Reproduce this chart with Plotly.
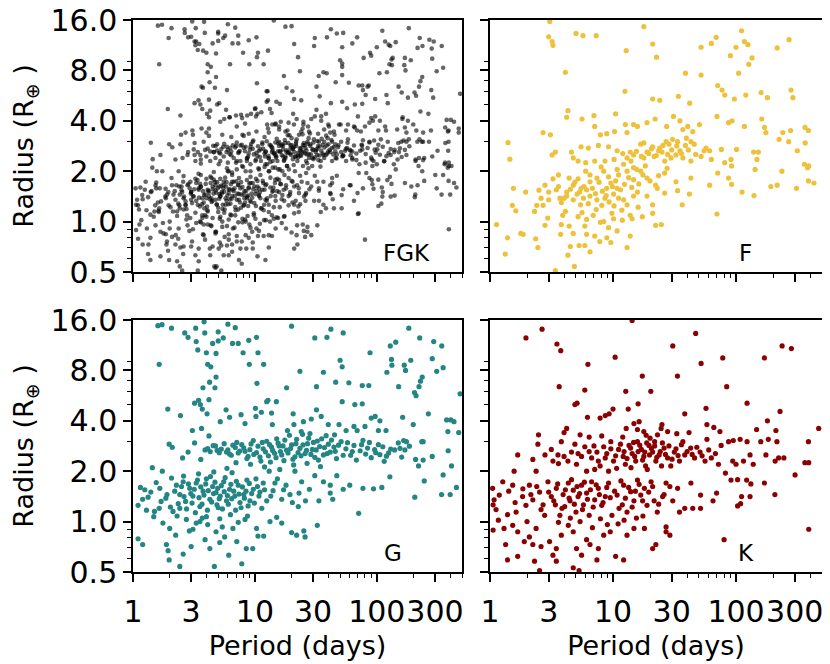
import math
import plotly.graph_objects as go

# ---------------- data (period in days, radius in Earth radii) ----------------
F_period = [
    3.06, 3.0, 3.2, 3.25, 5.0, 5.7, 7.3, 17.8, 21, 22.6, 12.8, 4.1, 12.5, 38.8, 52, 52, 63, 69,
    111, 100, 90, 117, 125, 135, 127, 105, 270, 216, 71, 77, 81, 97, 120, 160, 180, 280, 290,
    21, 24, 34, 42, 4.3, 4.2, 5.6, 7, 10.5, 2.7, 3.1, 1.4, 1.45, 3.2, 3.4, 4.6,
    12.6, 14.7, 15.8, 18.9, 22, 27.3, 31, 35, 37, 40.5, 44.5, 50.5, 70, 87, 93, 117, 162, 170,
    175, 364, 388, 278, 240, 7.1, 8.9, 10.3, 13, 7.9,
    5.5, 6.3, 7.6, 9.2, 10.8, 13.8, 16.8, 17.8, 21, 23.5, 25, 28.5, 33.5, 38.8, 45.7, 57, 61,
    76, 101, 139, 152, 224, 268, 315, 365, 390,
    4.75, 5.2, 6.0, 7.1, 8.6, 10.2, 13, 14.7, 17.8, 21.6, 26.3, 29.6, 37, 43, 52, 63, 81, 91,
    92, 148, 143, 236, 360, 382,
    3.25, 3.6, 4.4, 5.2, 6.5, 8.4, 9.2, 11.1, 13, 15.6, 14.7, 18.9, 22.2, 26.3, 32.5, 43, 61,
    71, 87, 92, 192, 216, 310, 430, 388,
    2.5, 1.95, 1.55, 3.46, 4.2, 5.1, 5.75, 6.5, 7.4, 8.6, 10.1, 11.1, 12.2, 14.7, 15.8, 18.9,
    21, 22.9, 26.3, 33.5, 41.8, 112, 140, 3.0, 2.7, 3.8, 4.75, 5.45, 8.1, 10.2, 13, 36.5,
    2.3, 1.52, 1.62, 2.95, 3.9, 5.2, 6.1, 6.9, 8.4, 10.1, 11.9, 13.8, 17.3, 21, 70, 22.2, 24.7,
    1.13, 2.8, 3.8, 4.4, 5.9, 7.9, 9.2, 10.8, 14.3,
    1.78, 1.86, 1.39, 2.35, 2.45, 3.75, 4.75, 6.1, 7.1, 8.9, 13.8, 7.8, 9.6, 13, 4.5, 5.3, 5.9,
    6.5, 4.3, 1.33, 4.85, 3.4,
    6.5, 7.4, 8.9, 9.6, 10.8, 4.75, 5.5, 6.1, 4.2, 3.7, 24, 27, 30.5, 32.5, 35, 39.5, 43, 55,
    18.9, 16.8, 18.3, 14.7, 12.2, 10.8,
    3.6, 4.0, 4.5, 4.9, 5.35, 5.8, 6.3, 6.8, 7.2, 7.7, 8.2, 8.8, 9.3, 9.9, 10.5, 11.5, 12.4,
    13.4, 14.2, 16.2, 17.5, 20, 23.5, 27.5, 12, 14, 15.5, 17, 19.5, 20.5, 22.5, 25.5, 27.8,
    30, 33, 36, 41, 47, 3.0, 2.8, 2.6, 2.4, 4.1, 5.6, 7.3, 9.8, 11.8, 16, 6.0, 8.0,
]
F_radius = [
    15.7, 12.7, 11.9, 11.3, 13.3, 12.9, 12.9, 14.6, 11.5, 9.6, 10.5, 7.8, 6.0, 7.7, 7.5, 11, 11.6, 12.6,
    13.8, 11, 9.8, 11.9, 11.4, 9.5, 8.7, 7.7, 12.2, 10.9, 6.5, 6.1, 5.7, 5.4, 5.7, 5.9, 5.5, 6.1, 5.5,
    5.4, 5.3, 5.6, 5.1, 4.6, 4.2, 4.1, 4.3, 4.4, 3.4, 3.3, 2.96, 2.36, 2.5, 2.6, 2.6,
    3.8, 3.8, 3.7, 3.9, 4.1, 3.7, 4.25, 4.0, 3.55, 3.7, 3.45, 3.8, 4.25, 3.9, 4.0, 3.7, 4.1, 3.65,
    3.4, 3.65, 3.5, 3.5, 3.4, 3.7, 3.35, 3.45, 3.4, 3.3,
    2.8, 2.75, 2.85, 2.8, 2.65, 2.6, 2.9, 2.95, 2.8, 2.65, 2.6, 2.9, 3.0, 2.85, 2.9, 2.75, 2.65,
    2.7, 2.7, 2.6, 2.6, 3.1, 3.0, 2.65, 2.95, 2.15,
    2.4, 2.3, 2.25, 2.3, 2.3, 2.35, 2.4, 2.5, 2.4, 2.45, 2.3, 2.4, 2.4, 2.3, 2.45, 2.35, 2.25, 2.35,
    2.15, 2.35, 2.05, 2.0, 2.2, 2.1,
    1.8, 1.9, 1.82, 1.8, 1.9, 2.0, 1.85, 1.9, 2.0, 2.05, 1.78, 1.82, 1.65, 1.95, 1.73, 1.82, 1.65,
    1.95, 1.82, 1.67, 1.62, 1.65, 1.58, 1.7, 1.75,
    1.54, 1.5, 1.58, 1.55, 1.5, 1.46, 1.38, 1.42, 1.35, 1.38, 1.46, 1.38, 1.35, 1.42, 1.5, 1.42,
    1.26, 1.58, 1.48, 1.53, 1.46, 1.5, 1.43, 1.35, 1.25, 1.3, 1.35, 1.26, 1.25, 1.24, 1.26, 1.26,
    1.15, 1.25, 1.16, 1.05, 1.09, 1.07, 1.03, 1.09, 1.0, 1.04, 1.02, 1.09, 1.07, 1.12, 1.11, 0.95, 0.96,
    0.96, 0.95, 0.96, 0.94, 0.94, 0.99, 0.92, 0.88, 1.04,
    0.85, 0.84, 0.8, 0.79, 0.7, 0.84, 0.85, 0.84, 0.82, 0.8, 0.82, 0.76, 0.75, 0.7, 0.71, 0.72, 0.72,
    0.66, 0.63, 0.64, 0.54, 0.51,
    1.73, 1.82, 1.58, 1.7, 1.58, 1.65, 1.58, 1.55, 1.42, 1.38, 2.75, 3.0, 3.1, 2.5, 2.65, 3.15, 3.0, 2.65,
    2.6, 2.0, 2.15, 2.1, 2.2, 2.05,
    1.62, 1.38, 1.56, 1.72, 1.5, 1.62, 1.28, 1.58, 1.47, 1.72, 1.52, 1.43, 1.31, 1.62, 1.75, 1.55, 1.67,
    1.83, 1.6, 1.68, 1.9, 1.75, 1.88, 2.08, 2.55, 2.3, 2.63, 2.45, 2.55, 2.72, 2.48, 2.85, 2.52,
    2.68, 2.83, 2.55, 2.68, 2.52, 1.5, 1.65, 1.38, 1.25, 1.15, 1.13, 1.18, 1.12, 1.17, 1.22, 2.0, 2.12,
]

G_period = [
    1.6, 1.73, 2.07, 1.64, 2.66, 2.83, 3.27, 3.3, 3.83, 3.88, 4.5, 5.0, 5.0, 5.5, 6.0, 6.9,
    6.55, 7.3, 8.9, 10.3, 8.0, 10.6, 9.0, 11.8, 3.4, 4.0, 4.8, 4.1, 4.35, 4.8, 4.25, 3.75,
    4.7, 10.4, 20, 31, 39, 42, 53, 50, 52, 23.4, 36.5, 18.2, 32, 46, 59, 52, 66, 76, 76, 86,
    88, 121, 133, 132, 129, 143, 183, 168, 172, 190, 151, 204, 210, 225, 222, 236,
    228, 285, 293, 350, 310, 341, 482, 265,
    1.93, 2.45, 3.2, 3.45, 3.57, 3.7, 4.05, 4.2, 3.07, 3.65, 4.2, 5.2, 5.8, 6.2, 7.7, 8.3,
    10.1, 10.2, 11.3, 12.5, 12.8, 13.9, 15, 13.7, 20.6, 20.9, 25, 29, 32, 35, 40, 49, 56, 65,
    69, 80, 90, 97, 106, 103, 119, 163, 166, 199, 234, 240, 374, 405, 430, 383, 470,
    1.98, 2.1, 2.55, 2.83, 3.2, 3.6, 3.9, 4.1, 4.55, 4.9,
    5.3, 5.85, 6.2, 6.6, 7.1, 7.5, 8.1, 8.8, 9.1, 9.7,
    10.3, 11.2, 11.7, 12.5, 12.9, 13.7, 14.5, 15.1, 15.8, 16.6,
    17.6, 18.2, 19.2, 20, 21.3, 22, 23.4, 24.6, 25.8, 27,
    28.3, 29.6, 31, 32.5, 34, 36.5, 38.4, 40, 41.5, 44.5,
    46.7, 51, 55.8, 61, 65, 73, 77, 84, 90, 96,
    106, 112, 120, 130, 150, 155, 170, 175, 208, 220,
    240, 285, 385, 410, 350, 450, 400, 340, 245, 205,
    110, 128,
    1.1, 1.25, 1.29, 1.33, 1.44, 1.5, 1.66, 1.74, 1.86, 2.07, 2.13, 2.27, 2.42, 2.58, 2.7, 2.92,
    3.1, 3.3, 3.54, 3.76, 4.0, 4.27, 4.5, 4.8, 5.0, 5.2, 5.55, 5.85, 6.2, 6.5, 6.85, 7.3, 7.7,
    8.1, 8.6, 9.1, 9.7, 10.2, 10.8, 11.7, 12.5, 13.1, 14.1, 15.3, 16.6, 18, 19.4, 21.3, 22.7,
    24.2, 26, 28, 31, 33.5, 36.5, 41.5, 43.5, 47, 53, 60, 71, 77, 94, 41.5,
    1.1, 1.2, 1.48, 1.76, 2.0, 2.24, 1.88, 1.94, 1.98, 2.42, 2.58, 3.0, 3.1, 3.54, 3.9, 4.27,
    4.65, 4.8, 5.15, 5.65, 6.1, 6.6, 7.1, 7.8, 8.3, 8.5, 9.6, 10.3, 10.6, 11.8, 13.3, 15.1,
    16.6, 20, 22, 25.2, 25.8, 32.5, 3.3, 4.0, 5.15, 2.74, 2.42, 1.64,
    2.2, 2.35, 2.5, 2.62, 2.75, 2.85, 2.98, 3.05, 3.18, 3.25, 3.38, 3.48, 3.6, 3.68, 3.82, 3.95,
    4.08, 4.15, 4.32, 4.42, 4.58, 4.7, 4.88, 4.95, 5.1, 5.3, 5.42, 5.6, 5.7, 5.95, 6.05, 6.35,
    6.45, 6.7, 6.95, 7.05, 7.4, 7.55, 7.9, 8.2, 8.45, 8.8, 9.0, 9.4, 9.9, 10.5, 11.0, 11.4,
    12.0, 13.5, 14.6, 17.2, 20.3, 23, 1.9, 1.7, 1.55, 1.4, 1.2, 1.15, 2.03, 2.6, 3.45, 4.6,
    5.9, 2.3, 3.7, 6.3, 8.7, 4.1, 5.4, 7.3, 2.9,
    4.3, 4.75, 5.1, 5.6, 6.0, 6.4, 6.9, 7.3, 7.8, 8.3, 8.6, 9.3, 9.8, 10.6, 11.0, 11.5, 12.2,
    13.2, 13.4, 14.0, 14.9, 15.5, 16.2, 17.0, 17.3, 18.7, 19.6, 20.5, 21.7, 22.6, 23.9, 24.8,
    26.5, 27.6, 28.8, 30.2, 31.8, 33.2, 35.3, 37.2, 39.2, 42.5, 45.6, 48.5, 53, 57.5, 63, 68,
    75, 81, 87, 98, 103, 115, 125, 140, 160, 185, 20.8, 26.8, 34.5, 12, 16, 9.2, 7.0, 24,
    18.5, 45,
]
G_radius = [
    14.8, 15, 14.3, 8.7, 13.4, 12.6, 14.3, 11.9, 15.6, 13.4, 11.6, 13.6, 12.0, 12.5, 15.1, 14.4,
    11.6, 11.6, 12.1, 12.6, 10.2, 10.2, 8.7, 8.7, 10.6, 10.2, 10.1, 8.7, 8.4, 7.3, 6.8, 6.3,
    6.3, 6.7, 14.7, 12.5, 12.6, 14.1, 13.4, 9.2, 8.4, 7.9, 7.8, 6.3, 6.4, 6.8, 6.75, 5.2, 5.0, 5.05, 6.5, 6.5,
    10.2, 7.8, 8.6, 9.3, 11.2, 11.8, 14.3, 8.6, 8.0, 9.2, 6.4, 5.9, 5.65, 12.5, 6.4, 7.3,
    6.9, 9.4, 11.9, 8.3, 7.9, 11.2, 5.8, 4.4,
    4.7, 4.3, 5.1, 5.3, 5.0, 4.7, 4.4, 5.35, 3.5, 3.6, 3.25, 3.95, 4.65, 4.2, 4.35, 3.85,
    4.75, 4.25, 4.5, 5.2, 5.3, 3.8, 5.2, 4.45, 4.4, 3.8, 3.95, 4.1, 4.65, 4.25, 3.8, 3.8, 3.5, 3.7,
    3.5, 3.7, 4.15, 4.25, 4.0, 3.5, 3.5, 4.2, 3.05, 3.8, 3.0, 3.0, 4.05, 4.05, 3.95, 3.45, 3.4,
    2.9, 2.78, 2.4, 2.6, 2.95, 2.35, 2.68, 2.73, 2.84, 2.66,
    2.71, 2.6, 2.53, 2.86, 2.97, 2.64, 2.76, 2.45, 2.69, 3.05,
    2.58, 2.3, 2.72, 3.02, 2.47, 2.79, 2.56, 3.12, 2.83, 2.5,
    3.07, 2.67, 3.28, 2.87, 2.44, 3.1, 2.74, 3.32, 2.55, 2.92,
    3.36, 2.7, 2.42, 3.03, 2.81, 2.5, 3.26, 2.9, 2.6, 2.79,
    2.38, 3.0, 2.72, 2.49, 2.85, 2.65, 3.06, 2.75, 2.41, 2.69,
    2.51, 2.8, 2.46, 2.71, 2.95, 2.74, 2.68, 3.0, 2.35, 2.15,
    2.33, 2.45, 2.65, 2.15, 1.9, 1.6, 1.45, 1.45, 1.75, 1.4,
    1.6, 1.85,
    1.25, 1.55, 1.17, 1.4, 2.1, 1.15, 1.58, 2.0, 1.38, 1.82, 1.15, 1.65, 1.45, 1.73, 1.32, 1.58,
    1.42, 1.7, 1.23, 1.52, 1.8, 1.36, 1.62, 1.49, 1.21, 1.42, 1.73, 1.33, 1.56, 1.96, 1.42, 1.65, 1.21,
    1.45, 1.77, 1.33, 1.56, 1.8, 1.42, 1.7, 1.33, 2.0, 1.53, 1.8, 1.36, 1.65, 1.45, 2.0, 1.23,
    1.73, 1.33, 1.56, 1.88, 1.33, 1.73, 1.65, 1.36, 1.88, 1.56, 1.65, 1.12, 1.58, 1.57, 1.48,
    0.79, 0.73, 1.07, 0.98, 0.91, 0.83, 0.73, 0.67, 0.59, 0.54, 0.64, 0.71, 0.9, 1.0, 0.78, 0.69,
    0.54, 0.87, 1.04, 0.81, 0.63, 0.91, 0.76, 0.56, 1.03, 0.69, 0.69, 0.91, 0.82, 0.82, 1.0, 1.06,
    0.98, 0.86, 0.83, 0.88, 0.81, 0.95, 0.98, 1.07, 0.75, 1.03, 1.2, 1.2,
    1.52, 1.28, 1.62, 1.41, 1.19, 1.68, 1.47, 1.29, 1.56, 1.13, 1.77, 1.39, 1.61, 1.27, 1.44, 1.68,
    1.17, 1.53, 1.86, 1.31, 1.47, 1.72, 1.26, 1.58, 1.37, 1.64, 1.19, 1.51, 1.83, 1.43, 1.27, 1.67,
    1.37, 1.52, 1.17, 1.74, 1.46, 1.3, 1.61, 1.38, 1.52, 1.24, 1.69, 1.47, 1.29, 1.62, 1.5, 1.2,
    1.55, 1.42, 1.7, 1.55, 1.3, 1.48, 1.45, 1.32, 1.71, 1.5, 1.36, 1.6, 1.22, 1.87, 1.93, 1.98,
    2.08, 1.08, 1.05, 1.1, 1.08, 0.96, 0.93, 0.99, 0.88,
    2.62, 2.83, 2.58, 2.92, 2.68, 2.49, 2.77, 2.57, 2.88, 2.63, 2.38, 2.91, 2.52, 2.82, 2.43, 2.97, 2.61,
    2.88, 2.27, 2.66, 2.41, 2.94, 2.62, 2.83, 2.31, 2.57, 2.73, 2.36, 2.92, 2.58, 2.47, 2.87,
    2.66, 3.15, 2.52, 2.97, 2.68, 2.33, 3.12, 2.77, 2.55, 3.07, 2.63, 2.86, 2.49, 2.96, 2.62, 2.33,
    2.88, 2.53, 2.97, 2.58, 2.88, 2.29, 2.57, 2.68, 2.43, 2.82, 2.18, 2.23, 2.13, 2.12, 2.05, 2.2, 2.25, 3.45,
    3.5, 3.3,
]

K_period = [
    2.65, 1.96, 3.5, 3.76, 3.65, 6.25, 10.4, 5.9, 4.9, 5.1, 6.2, 7.85, 8.65, 9.3, 10, 12.7, 13.3,
    16, 17.3, 20.3, 30.6, 33.4, 38.3, 47, 52, 57, 78, 84, 123, 170, 180, 228, 237, 282, 470, 14.3,
    2.48, 2.45, 4.2, 4.0, 3.8, 5.4, 6.4, 8.1, 9.6, 12.8, 14.8, 16.3, 15.8, 17.8, 20, 21.8, 24.6,
    25, 27.8, 33, 37, 41.5, 58, 58, 66, 74, 75.7, 87, 95, 108, 123, 147, 159, 183, 211, 215, 388,
    363, 390, 302, 245,
    1.68, 1.57, 2.23, 2.37, 3.15, 3.25, 3.57, 4.3, 4.6, 5.05,
    5.55, 5.9, 6.1, 6.7, 7.4, 7.85, 8.4, 8.65, 9.2, 10.1,
    11.1, 12.1, 12.6, 13.5, 14.3, 15.3, 15.8, 17, 17.8, 18.4,
    19.6, 21, 22.3, 23.7, 26, 27.8, 29.5, 31.5, 34.7, 38.3,
    42.8, 46, 51, 56, 63, 72, 82, 94, 100, 115,
    130, 138, 175, 208, 222, 91, 103, 122, 132, 170,
    207, 111, 130,
    1.05, 1.08, 1.19, 1.27, 1.53, 1.06, 1.17, 1.39, 1.63, 1.84, 1.96, 2.09, 2.23, 2.53, 2.7, 2.78,
    2.96, 3.15, 3.4, 3.46, 3.7, 3.93, 4.05, 4.33, 4.47, 4.75, 5.0, 5.2, 5.55, 5.75, 6.1, 6.4, 6.7,
    7.1, 7.6, 8.1, 8.65, 9.2, 9.8, 10.8, 11.9, 12.2, 13, 13.9, 14.8, 15.8, 16.8, 18, 18.9, 20.4,
    21.6, 22.9, 25.3, 27, 30.6, 33.5, 34.7, 38.3, 43, 44.5, 51.5, 51.5, 65, 69.5, 103, 109, 390,
    1.06, 1.3, 1.53, 1.68, 2.37, 2.09, 1.9, 2.23, 1.34, 2.6, 3.05, 3.25, 3.46, 3.8, 4.33, 4.75,
    5.05, 5.55, 6.1, 6.5, 7.4, 7.6, 8.4, 9.5, 10.5, 12.2, 13, 14.8, 18, 21, 22.3, 27, 29, 27,
    1.39, 1.68, 2.3, 2.53, 3.46, 5.3, 4.75, 80,
    3.0, 3.3, 3.55, 3.85, 4.1, 4.4, 4.6, 4.85, 5.1, 5.35, 5.65, 5.85, 6.2, 6.55, 6.9, 7.3, 7.75,
    8.3, 8.9, 9.5, 10.3, 11.2, 11.6, 12.6, 13.4, 14.3, 15.2, 16.3, 17.4, 19.5, 21, 23.5, 26, 29,
    2.4, 2.15, 1.85, 1.6, 1.42, 1.12, 2.6, 3.6, 5.4, 7.9, 11, 15.5, 2.0, 4.5, 6.8, 9.0, 12.3, 17.5,
    8.9, 9.6, 10.5, 11.5, 12.3, 13.0, 13.9, 14.7, 15.0, 16.0, 16.5, 17.4, 18.1, 18.8, 19.8, 20.5,
    21.8, 22.7, 24.2, 25.2, 26.7, 28.5, 30.2, 32.5, 33.8, 36, 40, 44, 48, 53, 60, 68, 6.4, 7.0,
    7.6, 5.2, 4.0, 4.9, 3.6, 2.8, 7.1, 10.7, 14.0, 19.0, 24.8, 12, 18.6, 23,
]
K_radius = [
    14.1, 12.5, 11.5, 10.5, 6.4, 8.7, 9.6, 6.1, 5.0, 5.1, 4.2, 4.15, 4.3, 4.4, 4.7, 6.0, 4.7,
    5.05, 7.4, 6.0, 11.2, 7.4, 4.4, 13.3, 8.8, 4.75, 9.5, 6.4, 5.1, 9.5, 4.0, 4.55, 11.2, 10.8, 3.6, 15.9,
    3.3, 2.9, 3.6, 3.4, 3.0, 3.3, 3.2, 3.25, 3.0, 3.6, 3.85, 3.95, 3.55, 3.45, 3.15, 3.0, 3.6,
    3.8, 3.45, 3.35, 3.0, 3.4, 3.8, 3.1, 3.65, 3.45, 2.85, 3.0, 3.05, 3.1, 3.0, 3.55, 3.0, 3.1, 3.5, 3.0, 3.0,
    2.25, 2.25, 1.9, 2.4,
    2.5, 2.0, 2.35, 2.0, 2.7, 2.3, 2.5, 2.3, 2.6, 2.2,
    2.45, 2.8, 2.0, 2.4, 2.6, 2.15, 2.8, 2.4, 2.0, 2.3,
    2.7, 2.45, 2.2, 2.85, 2.55, 2.3, 3.0, 2.7, 2.45, 2.15,
    2.85, 2.6, 2.3, 2.5, 2.75, 2.4, 2.15, 2.6, 2.3, 2.5,
    2.75, 2.4, 2.6, 2.3, 2.4, 2.2, 1.95, 2.3, 2.2, 2.3,
    2.5, 2.2, 2.5, 2.3, 2.4, 1.77, 1.78, 1.77, 1.68, 1.7,
    1.45, 1.41, 1.41,
    1.58, 1.35, 1.44, 1.73, 1.65, 1.26, 1.02, 1.1, 1.14, 1.41, 1.25, 1.65, 1.35, 1.5, 1.26, 1.09,
    1.73, 1.41, 1.26, 1.58, 1.09, 1.45, 1.23, 1.7, 1.33, 1.54, 1.14, 1.41, 1.65, 1.26, 1.48, 1.09, 1.73,
    1.35, 1.58, 1.25, 1.41, 1.7, 1.09, 1.44, 1.26, 1.65, 1.14, 1.51, 1.33, 1.77, 1.44, 1.58, 1.25, 1.73,
    1.33, 1.14, 1.41, 1.7, 1.33, 1.58, 1.14, 1.2, 1.7, 1.2, 1.2, 1.44, 1.33, 1.48, 1.24, 1.28, 0.9,
    0.89, 0.91, 0.95, 0.87, 0.91, 0.81, 0.76, 0.73, 0.73, 0.71, 0.76, 0.63, 0.69, 0.83, 0.95, 0.87,
    0.69, 0.63, 0.78, 0.73, 0.59, 0.69, 0.83, 0.87, 0.62, 0.59, 0.83, 0.91, 0.91, 0.69, 0.73, 0.87, 0.83, 0.93,
    0.59, 0.62, 0.58, 0.51, 0.58, 0.51, 0.53, 0.78,
    1.5, 1.33, 1.68, 1.2, 1.55, 1.38, 1.78, 1.27, 1.62, 1.47, 1.18, 1.72, 1.36, 1.55, 1.22, 1.66, 1.45,
    1.3, 1.6, 1.39, 1.52, 1.2, 1.75, 1.38, 1.6, 1.22, 1.52, 1.67, 1.33, 1.5, 1.62, 1.27, 1.45, 1.62,
    1.62, 1.45, 1.57, 1.3, 1.52, 1.18, 1.18, 0.99, 1.0, 1.04, 0.97, 1.05, 1.0, 1.05, 0.92, 0.96, 1.02, 1.08,
    2.55, 2.72, 2.47, 2.9, 2.62, 2.38, 2.75, 2.97, 2.45, 2.62, 2.86, 2.33, 2.6, 2.95, 2.5, 2.73,
    2.83, 2.42, 2.62, 2.95, 2.52, 2.83, 2.36, 2.72, 2.48, 2.88, 2.62, 2.52, 2.78, 2.47, 2.68, 2.55, 2.62, 2.83,
    2.3, 2.55, 2.45, 2.9, 2.22, 2.5, 2.05, 2.08, 2.1, 2.05, 2.15, 3.2, 3.28, 3.3,
]

# The FGK panel shows all stars together
FGK_period = F_period + G_period + K_period
FGK_radius = F_radius + G_radius + K_radius

panel_labels = ["FGK", "F", "G", "K"]
x_tickvals = [1, 3, 10, 30, 100, 300]
x_ticktext = ["1", "3", "10", "30", "100", "300"]
x_minor = [2, 4, 5, 6, 7, 8, 9, 20, 40, 50, 60, 70, 80, 90, 200, 400, 500]
y_tickvals = [0.5, 1, 2, 4, 8, 16]
y_ticktext = ["0.5", "1.0", "2.0", "4.0", "8.0", "16.0"]
y_minor = [0.6, 0.7, 0.8, 0.9, 3, 5, 6, 7, 9]

# ---------------- figure ----------------
FONT = "DejaVu Sans"
fig = go.Figure()

series = [
    (FGK_period, FGK_radius, "black", 4.6, 0.6, "x", "y"),
    (F_period, F_radius, "#EDC13A", 5.2, 1.0, "x2", "y2"),
    (G_period, G_radius, "#248585", 5.2, 1.0, "x3", "y3"),
    (K_period, K_radius, "#8B0000", 5.2, 1.0, "x4", "y4"),
]
for px, ry, col, sz, op, xa, ya in series:
    fig.add_trace(go.Scatter(
        x=px, y=ry, mode="markers", xaxis=xa, yaxis=ya, showlegend=False,
        marker=dict(color=col, size=sz, opacity=op, line=dict(width=0)),
        hoverinfo="x+y",
    ))

# page body adds an 8 px offset, so the figure is drawn 822x656
W, H = 822, 656
ML, MR, MT, MB = 125, 8, 12, 92
pw = W - ML - MR
ph = H - MT - MB
xl = [0, 329 / pw]
xr = [357 / pw, 1]
yt = [300 / ph, 1]
yb = [0, 252 / ph]

tickfont = dict(family=FONT, size=30, color="black")
titlefont = dict(family=FONT, size=27, color="black")


def xaxis(domain, anchor, labels):
    d = dict(
        type="log", range=[0, math.log10(500)], domain=domain, anchor=anchor,
        tickmode="array", tickvals=x_tickvals, ticktext=x_ticktext, tickangle=0,
        showticklabels=labels, ticks="outside", ticklen=8, tickwidth=1.5, tickcolor="black",
        ticklabelstandoff=4, ticklabeloverflow="allow",
        showline=True, linecolor="black", linewidth=1.5, mirror=True,
        showgrid=False, zeroline=False, automargin=False, tickfont=tickfont,
        minor=dict(tickmode="array", tickvals=x_minor, ticks="outside", ticklen=4,
                   tickwidth=1, tickcolor="black", showgrid=False),
    )
    if labels:
        d["title"] = dict(text="Period (days)", font=titlefont, standoff=8)
    return d


def yaxis(domain, anchor, labels):
    d = dict(
        type="log", range=[math.log10(0.5), math.log10(16)], domain=domain, anchor=anchor,
        tickmode="array", tickvals=y_tickvals, ticktext=y_ticktext, tickangle=0,
        showticklabels=labels, ticks="outside", ticklen=8, tickwidth=1.5, tickcolor="black",
        ticklabeloverflow="allow",
        showline=True, linecolor="black", linewidth=1.5, mirror=True,
        showgrid=False, zeroline=False, automargin=False, tickfont=tickfont,
        minor=dict(tickmode="array", tickvals=y_minor, ticks="outside", ticklen=4,
                   tickwidth=1, tickcolor="black", showgrid=False),
    )
    if labels:
        d["title"] = dict(text="Radius (R<sub>⊕</sub> )", font=titlefont, standoff=22)
    return d


fig.update_layout(
    width=W, height=H, template="none",
    paper_bgcolor="white", plot_bgcolor="white",
    margin=dict(l=ML, r=MR, t=MT, b=MB),
    font=dict(family=FONT, color="black"),
    xaxis=xaxis(xl, "y", False), yaxis=yaxis(yt, "x", True),
    xaxis2=xaxis(xr, "y2", False), yaxis2=yaxis(yt, "x2", False),
    xaxis3=xaxis(xl, "y3", True), yaxis3=yaxis(yb, "x3", True),
    xaxis4=xaxis(xr, "y4", True), yaxis4=yaxis(yb, "x4", False),
)

label_pos = [("x", "y", 0.83), ("x2", "y2", 0.77), ("x3", "y3", 0.79), ("x4", "y4", 0.77)]
for (xa, ya, xp), txt in zip(label_pos, panel_labels):
    fig.add_annotation(
        xref=f"{xa} domain", yref=f"{ya} domain", x=xp, y=0.075, text=txt,
        showarrow=False, xanchor="center", yanchor="middle",
        font=dict(family=FONT, size=23, color="black"),
    )

fig.write_html("out.html")
